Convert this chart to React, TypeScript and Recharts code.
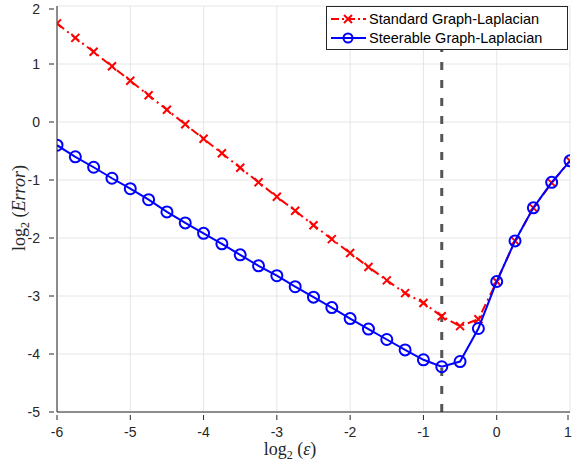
import React from 'react'
import { LineChart, Line, XAxis, YAxis, CartesianGrid, ReferenceLine } from 'recharts'

const logEps = [
  -6, -5.75, -5.5, -5.25, -5, -4.75, -4.5, -4.25, -4, -3.75, -3.5, -3.25, -3, -2.75, -2.5,
  -2.25, -2, -1.75, -1.5, -1.25, -1, -0.75, -0.5, -0.25, 0, 0.25, 0.5, 0.75, 1,
]
const standardErr = [
  1.7, 1.45, 1.21, 0.96, 0.71, 0.46, 0.21, -0.04, -0.29, -0.54, -0.79, -1.04, -1.29, -1.53, -1.78,
  -2.02, -2.26, -2.5, -2.73, -2.95, -3.12, -3.35, -3.52, -3.4, -2.75, -2.05, -1.48, -1.05, -0.67,
]
const steerableErr = [
  -0.4, -0.6, -0.78, -0.97, -1.15, -1.34, -1.55, -1.74, -1.92, -2.1, -2.29, -2.48, -2.65, -2.84, -3.02,
  -3.2, -3.39, -3.57, -3.75, -3.93, -4.1, -4.22, -4.13, -3.56, -2.75, -2.05, -1.48, -1.04, -0.67,
]
const xTicks = [-6, -5, -4, -3, -2, -1, 0, 1]
const yTicks = [-5, -4, -3, -2, -1, 0, 1, 2]
const optimalEps = -0.75

const data = logEps.map((x, i) => ({ x, standard: standardErr[i], steerable: steerableErr[i] }))

const W = 572
const H = 468
const axisColor = '#262626'
const font = 'Liberation Sans, Arial, sans-serif'
const mathFont = 'Liberation Serif, Times New Roman, serif'

function XTick(props: any) {
  const { x, y, payload } = props
  return (
    <g>
      <line x1={x} y1={y} x2={x} y2={y - 5} stroke={axisColor} strokeWidth={1} />
      <text x={x} y={y + 17} textAnchor="middle" fontSize={14} fontFamily={font} fill={axisColor}>
        {payload.value}
      </text>
    </g>
  )
}

function YTick(props: any) {
  const { x, y, payload } = props
  return (
    <g>
      <line x1={x} y1={y} x2={x + 5} y2={y} stroke={axisColor} strokeWidth={1} />
      <text x={x - 9} y={y + 5} textAnchor="end" fontSize={14} fontFamily={font} fill={axisColor}>
        {payload.value}
      </text>
    </g>
  )
}

function CrossDot(props: any) {
  const { cx, cy } = props
  if (cx == null || cy == null) return null
  const s = 4
  return (
    <path
      d={`M${cx - s},${cy - s}L${cx + s},${cy + s}M${cx - s},${cy + s}L${cx + s},${cy - s}`}
      stroke="#ff0000"
      strokeWidth={2}
      fill="none"
    />
  )
}

function CircleDot(props: any) {
  const { cx, cy } = props
  if (cx == null || cy == null) return null
  return <circle cx={cx} cy={cy} r={5.5} stroke="#0000ff" strokeWidth={2} fill="none" />
}

function LegendBox() {
  return (
    <div
      style={{
        position: 'absolute',
        left: 326,
        top: 6,
        border: '1px solid #262626',
        background: '#fff',
        width: 242,
        height: 44,
        fontFamily: font,
        fontSize: 14.5,
        color: '#000',
        boxSizing: 'border-box',
        padding: '2px 0 0 3px',
      }}
    >
      <div style={{ display: 'flex', alignItems: 'center', height: 19 }}>
        <svg width={38} height={14}>
          <line x1={1} y1={7} x2={36} y2={7} stroke="#ff0000" strokeWidth={2} strokeDasharray="8 3 2 3" />
          <path d="M14,3L22,11M14,11L22,3" stroke="#ff0000" strokeWidth={2} />
        </svg>
        <span style={{ marginLeft: 1 }}>Standard Graph-Laplacian</span>
      </div>
      <div style={{ display: 'flex', alignItems: 'center', height: 19 }}>
        <svg width={38} height={14}>
          <line x1={1} y1={7} x2={36} y2={7} stroke="#0000ff" strokeWidth={2} />
          <circle cx={18} cy={7} r={4.5} stroke="#0000ff" strokeWidth={2} fill="none" />
        </svg>
        <span style={{ marginLeft: 1 }}>Steerable Graph-Laplacian</span>
      </div>
    </div>
  )
}

function AxisLabels() {
  return (
    <svg width={W} height={H} style={{ position: 'absolute', left: 0, top: 0, pointerEvents: 'none' }}>
      <text x={290} y={455} textAnchor="middle" fontFamily={mathFont} fontSize={18} fill={axisColor}>
        log<tspan fontSize={12} dy={4}>2</tspan>
        <tspan dy={-4}> (</tspan>
        <tspan fontStyle="italic">ε</tspan>)
      </text>
      <text
        x={25}
        y={208}
        textAnchor="middle"
        transform="rotate(-90 25 208)"
        fontFamily={mathFont}
        fontSize={18}
        fill={axisColor}
      >
        log<tspan fontSize={12} dy={4}>2</tspan>
        <tspan dy={-4}> (</tspan>
        <tspan fontStyle="italic">Error</tspan>)
      </text>
    </svg>
  )
}

export default function App() {
  return (
    <div style={{ position: 'absolute', left: 0, top: 0, width: W, height: H, background: '#fff' }}>
      <div style={{ position: 'absolute', left: 0, top: 0 }}>
        <LineChart width={W} height={H} data={data} margin={{ top: 6, right: 2, bottom: 0, left: 0 }}>
          <CartesianGrid stroke="#e6e6e6" strokeWidth={1} />
          <XAxis
            dataKey="x"
            type="number"
            domain={[-6, 1]}
            ticks={xTicks}
            allowDataOverflow
            stroke={axisColor}
            tickLine={false}
            tick={<XTick />}
            height={56}
          />
          <YAxis
            type="number"
            domain={[-5, 2]}
            ticks={yTicks}
            allowDataOverflow
            stroke={axisColor}
            tickLine={false}
            tick={<YTick />}
            width={57}
          />
          <ReferenceLine x={optimalEps} stroke="#555555" strokeWidth={3} strokeDasharray="8 10" />
          <Line
            dataKey="standard"
            stroke="#ff0000"
            strokeWidth={2}
            strokeDasharray="9 4 2 4"
            dot={<CrossDot />}
            isAnimationActive={false}
          />
        </LineChart>
      </div>
      <div style={{ position: 'absolute', left: 0, top: 0 }}>
        <LineChart width={W} height={H} data={data} margin={{ top: 6, right: 2, bottom: 56, left: 57 }}>
          <XAxis dataKey="x" type="number" domain={[-6, 1]} ticks={xTicks} allowDataOverflow hide />
          <YAxis type="number" domain={[-5, 2]} ticks={yTicks} allowDataOverflow hide />
          <Line
            dataKey="steerable"
            stroke="#0000ff"
            strokeWidth={2}
            dot={<CircleDot />}
            isAnimationActive={false}
          />
        </LineChart>
      </div>
      <AxisLabels />
      <LegendBox />
    </div>
  )
}
